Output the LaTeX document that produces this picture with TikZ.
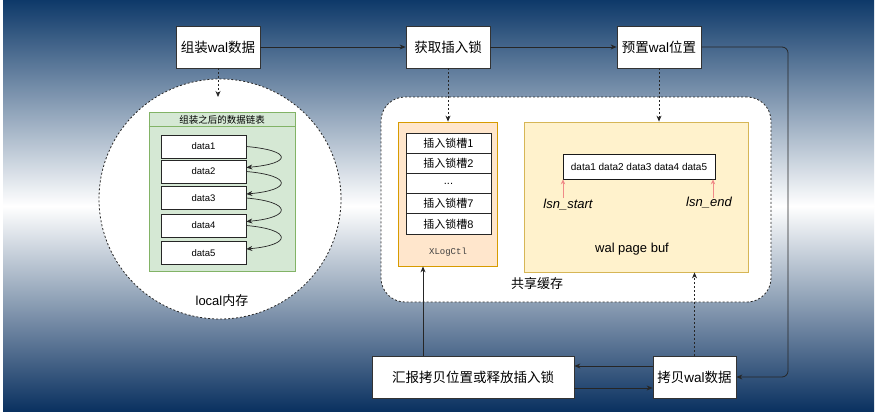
\documentclass[tikz,border=0pt]{standalone}
\usepackage{fontspec}
\setmainfont{Liberation Sans}
\setmonofont{Liberation Mono}
\newfontfamily\cjk{Noto Sans CJK SC}
\usetikzlibrary{arrows.meta,shapes.geometric,calc}
\definecolor{bgtop}{HTML}{0F3A6A}
\definecolor{bgbot}{HTML}{0A3160}
\definecolor{grfill}{HTML}{D5E8D4}
\definecolor{grdraw}{HTML}{82B366}
\definecolor{orfill}{HTML}{FFE6CC}
\definecolor{ordraw}{HTML}{D79B00}
\definecolor{yefill}{HTML}{FFF2CC}
\definecolor{yedraw}{HTML}{D6B656}
\definecolor{redarrow}{HTML}{F08A88}
\tikzset{
  mainbox/.style={draw=black!80, fill=white, line width=0.8pt, minimum width=84pt, minimum height=42pt, inner sep=0pt, font=\fontsize{13.5}{15}\selectfont},
  databox/.style={draw=black!85, fill=white, line width=0.7pt, minimum width=85pt, minimum height=23pt, inner sep=0pt, font=\fontsize{9.5}{11}\selectfont},
  slotbox/.style={draw=black!85, fill=white, line width=0.7pt, minimum width=85pt, minimum height=20.2pt, inner sep=0pt, font=\fontsize{11}{13}\selectfont},
  dotline/.style={dash pattern=on 2pt off 2pt, line width=0.8pt, draw=black!85},
  arr/.style={-{Stealth[length=6pt,width=5pt]}, line width=0.8pt, draw=black!85},
  darr/.style={-{Stealth[length=6pt,width=5pt]}, dotline},
  redarr/.style={-{Stealth[length=5pt,width=4.5pt]}, line width=0.9pt, draw=redarrow},
  lbl/.style={inner sep=0pt, font=\fontsize{13}{15}\selectfont},
}
\begin{document}
\begin{tikzpicture}[x=1pt,y=-1pt]
\useasboundingbox (0,0) rectangle (877,412);
\fill[white] (0,0) rectangle (877,412);
\shade[top color=bgtop, bottom color=bgbot, middle color=white] (3,1) rectangle (874,411);

% local memory ellipse
\node[ellipse, draw, dotline, fill=white, minimum width=242pt, minimum height=240pt, inner sep=0pt] (loc) at (220,199) {};
\node[lbl] (loclbl) at (222,301) {local{\cjk 内存}};

% green list container
\node[draw=grdraw, fill=grfill, line width=0.8pt, minimum width=146pt, minimum height=159pt, inner sep=0pt] (grn) at (222,191.5) {};
\draw[draw=grdraw, line width=0.8pt] ($(grn.north west)+(0,15)$) -- ($(grn.north east)+(0,15)$);
\node[inner sep=0pt, font=\fontsize{9.5}{11}\selectfont] (grntitle) at (222,119.5) {\cjk 组装之后的数据链表};
\node[databox] (d1) at (203.5,146.5) {data1};
\node[databox] (d2) at (203.5,171.5) {data2};
\node[databox] (d3) at (203.5,198) {data3};
\node[databox] (d4) at (203.5,225.5) {data4};
\node[databox] (d5) at (203.5,253) {data5};
\foreach \a/\b in {d1/d2,d2/d3,d3/d4,d4/d5}
  \draw[arr, line width=0.7pt] (\a.east) .. controls +(46,4) and +(46,-4) .. ([yshift=4pt]\b.east);

% shared memory
\node[draw, dotline, fill=white, rounded corners=24pt, minimum width=390pt, minimum height=205pt, inner sep=0pt] (shm) at (576,199.5) {};
\node[lbl] (shmlbl) at (537,284) {\cjk 共享缓存};

% XLogCtl
\node[draw=ordraw, fill=orfill, line width=0.8pt, minimum width=99pt, minimum height=144pt, inner sep=0pt] (xl) at (447.5,194) {};
\node[slotbox] (s1) at (448.5,143.1) {\cjk 插入锁槽1};
\node[slotbox] (s2) at (448.5,163.3) {{\cjk 插入锁槽}2};
\node[slotbox] (s3) at (448.5,183.5) {...};
\node[slotbox] (s4) at (448.5,203.7) {{\cjk 插入锁槽}7};
\node[slotbox] (s5) at (448.5,223.9) {{\cjk 插入锁槽}8};
\node[inner sep=0pt, font=\ttfamily\fontsize{9}{11}\selectfont, text=black!75] (xllbl) at (448,252) {XLogCtl};

% wal page buf
\node[draw=yedraw, fill=yefill, line width=0.8pt, minimum width=224pt, minimum height=150pt, inner sep=0pt] (wpb) at (636,197) {};
\node[draw=black!90, fill=white, line width=0.8pt, minimum width=152pt, minimum height=25pt, inner sep=0pt, font=\fontsize{10}{12}\selectfont] (buf) at (639,166.5) {data1 data2 data3 data4 data5};
\node[lbl] (wpblbl) at (632,249) {wal page buf};
\node[lbl, font=\itshape\fontsize{13}{15}\selectfont] (lss) at (568,205) {lsn\_start};
\node[lbl, font=\itshape\fontsize{13}{15}\selectfont] (lse) at (709,203) {lsn\_end};
\coordinate (lsa) at (563,198);
\coordinate (lea) at (713,198);
\draw[redarr] (lsa) -- (lsa |- buf.south);
\draw[redarr] (lea) -- (lea |- buf.south);

% main process boxes
\node[mainbox] (asm) at (218,47) {{\cjk 组装}wal{\cjk 数据}};
\node[mainbox] (lock) at (448,47) {\cjk 获取插入锁};
\node[mainbox] (pre) at (659,47) {{\cjk 预置}wal{\cjk 位置}};
\node[mainbox, minimum width=83pt] (cp) at (694.5,377) {{\cjk 拷贝}wal{\cjk 数据}};
\node[mainbox, minimum width=202pt] (rep) at (473,377) {\cjk 汇报拷贝位置或释放插入锁};

% connectors
\coordinate (ea) at (218,97);
\coordinate (rc) at (788,0);
\coordinate (xa) at (423,0);
\draw[arr] (asm) -- (lock);
\draw[arr] (lock) -- (pre);
\draw[arr, rounded corners=6pt] (pre.east) -- (pre.east -| rc) -- (rc |- cp.east) -- (cp.east);
\draw[arr] ([yshift=11pt]cp.west) -- ([yshift=11pt]rep.east);
\draw[arr] ([yshift=-11pt]rep.east) -- ([yshift=-11pt]cp.west);
\draw[arr] (xa |- rep.north) -- (xa |- xl.south);
\draw[darr] (cp.north) -- (cp.north |- wpb.south);
\draw[darr] (pre.south) -- (pre.south |- wpb.north);
\draw[darr] (lock.south) -- (lock.south |- xl.north);
\draw[darr] (asm.south) -- (ea);
\end{tikzpicture}
\end{document}
